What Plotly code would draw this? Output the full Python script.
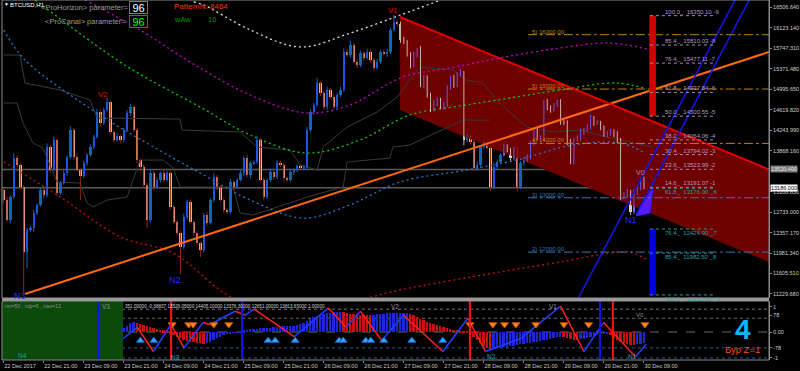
import plotly.graph_objects as go

# ---------------- DATA ----------------
time_labels = ["22 Dec 2017", "22 Dec 21:00", "23 Dec 09:00", "23 Dec 21:00", "24 Dec 09:00",
               "24 Dec 21:00", "25 Dec 09:00", "25 Dec 21:00", "26 Dec 09:00", "26 Dec 21:00",
               "27 Dec 09:00", "27 Dec 21:00", "28 Dec 09:00", "28 Dec 21:00", "29 Dec 09:00",
               "29 Dec 21:00", "30 Dec 09:00"]
time_label_idx = [0, 12, 24, 36, 48, 60, 72, 84, 96, 108, 120, 132, 144, 156, 168, 180, 192]

price_ticks = [16506.64, 16123.14, 15747.31, 15371.48, 14995.65, 14619.82, 14243.99, 13868.16,
               13108.83, 12733.00, 12357.17, 11981.34, 11605.51, 11229.68]

first_open = 13142
closes = [
    12958, 12590, 13013, 13731, 13602, 13197, 12001, 12406, 12443, 12719,
    12866, 13142, 13050, 13933, 13510, 14062, 13087, 13271, 13455, 13749,
    14246, 13749, 13510, 13400, 13639, 13786, 13933, 14117, 14577, 14375,
    14614, 14761, 14209, 14062, 14136, 14062, 14246, 14559, 14669, 14246,
    13694, 13565, 13234, 12590, 13455, 13197, 13326, 13455, 13326, 13455,
    12829, 12553, 12351, 12093, 12645, 12921, 12553, 12351, 12167, 12038,
    12682, 12535, 12958, 13381, 13197, 12958, 12774, 12737, 13289, 13197,
    13326, 13455, 13731, 13418, 13639, 13657, 14062, 13326, 13013, 13326,
    13473, 13381, 13639, 13602, 13363, 13326, 13473, 13510, 13584, 13547,
    13565, 14246, 14577, 14706, 15111, 14927, 14669, 14982, 14853, 14669,
    14890, 14982, 15681, 15626, 15810, 15497, 15442, 15663, 15571, 15681,
    15534, 15387, 15497, 15681, 15644, 15681, 16086, 16233, 16196, 15902,
    15865, 15626, 15442, 15626, 15718, 15074, 15203, 14890, 14614, 14743,
    14798, 14669, 14706, 15019, 15203, 15074, 15258, 15295, 14062, 14117,
    14025, 13547, 13602, 13933, 13970, 13915, 13197, 13565, 13657, 13786,
    13933, 13878, 13731, 13878, 13197, 13639, 13694, 13749, 14007, 14191,
    14099, 14099, 14761, 14651, 14614, 14706, 14743, 14393, 14375, 14025,
    13657, 14062, 14099, 14209, 14246, 14301, 14467, 14375, 14375, 14283,
    14154, 14191, 14209, 14154, 14062, 13013, 13050, 13105, 12737, 13105,
    13179, 13326, 13186]
wick_up = [
    40, 60, 30, 90, 50, 40, 30, 50, 40, 60,
    30, 50, 40, 70, 40, 60, 30, 40, 50, 30,
    70, 40, 60, 30, 40, 30, 50, 40, 60, 50,
    40, 80, 30, 40, 60, 30, 40, 50, 60, 30,
    40, 30, 50, 40, 70, 40, 50, 30, 60, 40,
    30, 40, 30, 40, 60, 40, 50, 30, 40, 30,
    40, 60, 30, 70, 40, 30, 50, 40, 60, 30,
    40, 50, 30, 60, 40, 30, 80, 40, 50, 30,
    40, 30, 60, 40, 50, 30, 40, 30, 40, 30,
    40, 60, 50, 40, 90, 40, 50, 60, 40, 50,
    40, 60, 70, 50, 80, 40, 60, 50, 40, 60,
    50, 40, 60, 40, 50, 60, 40, 130, 50, 40,
    60, 40, 50, 60, 40, 70, 60, 50, 40, 60,
    50, 40, 60, 50, 40, 60, 50, 70, 40, 60,
    40, 50, 60, 40, 70, 50, 40, 80, 50, 40,
    60, 50, 40, 60, 50, 40, 60, 50, 40, 60,
    90, 50, 40, 60, 50, 40, 60, 70, 40, 50,
    60, 40, 50, 60, 40, 50, 60, 40, 50, 40,
    50, 40, 60, 50, 70, 40, 50, 60, 40, 50,
    60, 40, 60]
wick_dn = [
    50, 40, 60, 30, 40, 50, 750, 300, 40, 60,
    40, 30, 60, 40, 50, 30, 60, 40, 30, 50,
    40, 60, 30, 440, 40, 50, 30, 40, 30, 60,
    40, 30, 50, 40, 30, 60, 40, 30, 50, 40,
    60, 40, 50, 150, 40, 60, 30, 50, 40, 30,
    50, 40, 60, 500, 40, 50, 30, 60, 40, 130,
    40, 50, 30, 40, 60, 30, 50, 40, 30, 60,
    40, 30, 50, 40, 60, 30, 40, 50, 60, 40,
    30, 50, 40, 30, 60, 40, 30, 50, 40, 30,
    40, 30, 40, 50, 30, 60, 40, 50, 30, 40,
    50, 40, 30, 40, 50, 30, 60, 40, 50, 30,
    40, 50, 30, 40, 30, 50, 40, 30, 40, 50,
    40, 30, 60, 40, 50, 40, 60, 50, 40, 30,
    60, 40, 50, 40, 30, 50, 40, 30, 100, 40,
    50, 60, 40, 50, 40, 30, 80, 40, 50, 40,
    30, 40, 50, 40, 80, 40, 50, 30, 40, 50,
    40, 30, 60, 40, 50, 30, 40, 50, 40, 60,
    40, 50, 30, 40, 50, 30, 40, 50, 30, 40,
    30, 40, 50, 40, 60, 60, 40, 50, 55, 40,
    50, 40, 30]

# channel (V1 -> right edge)
chan_idx = [118.8, 229.5]
chan_top = [16325, 13520.4]
chan_bot = [14614, 11817]
# trend lines
trend_idx = [6.4, 229.5]
trend_price = [11230, 15681]
blueA_idx = [170, 222]
blueA_price = [10883, 16951]
blueB_idx = [189.6, 229.5]
blueB_price = [12682, 17330]
tri_idx = [189.6, 193.8, 194.7]
tri_price = [12664, 12719, 13198]

# envelope curves (index, price)
white_idx = [57, 60, 74, 89, 104, 119, 131]
white_px = [16601, 16546, 16086, 15774, 16031, 16362, 16638]
mag_idx = [24.4, 40.9, 55.9, 73.9, 91.0, 103.8, 119.7, 133.8, 148.8, 166.8, 181.8, 192.9]
mag_px = [16638, 16086, 15498, 14890, 14559, 14706, 15222, 15387, 15571, 15755, 15847, 15737]
grn_idx = [9.4, 34.0, 43.9, 58.9, 73.9, 91.0, 106.8, 121.8, 136.8, 151.8, 166.8, 183.9, 192.9]
grn_px = [16638, 15534, 15166, 14670, 14154, 13823, 14063, 14523, 14688, 14835, 14983, 15111, 15001]
blu_idx = [0, 6.4, 28.9, 43.9, 58.9, 73.9, 89.8, 103.8, 118.8, 138.9, 153.9, 170.7, 184.8, 192.3]
blu_px = [16086, 15534, 14523, 13971, 13456, 12959, 12627, 12867, 13290, 13511, 13695, 13971, 14008, 13823]
red_idx = [0, 16.9, 34.9, 50.8, 68.8, 88.9, 109.0, 118.8, 148.8, 166.8, 181.8, 187.8, 192.9]
red_px = [13663, 13019, 12283, 11984, 11156, 10898, 11156, 11303, 11634, 11818, 11984, 12002, 11855]
g1_idx = [0, 4.9, 6.4, 16.9, 25.9, 28.0, 52.9, 53.5, 70.9, 76.0, 85.9, 88.9, 94.0, 95.8, 103.0,
          112.0, 118.0, 124.8, 134.7, 138.9, 143.7, 147.9, 152.7, 156.9, 164.7, 172.8, 180.9, 188.7, 194.7]
g1_px = [15626, 15626, 15111, 14982, 14798, 14467, 14448, 14246, 14209, 13933, 13878, 13602, 13510, 13933,
         14301, 14577, 14853, 15405, 15350, 15166, 15111, 14798, 14522, 14301, 14209, 14246, 14117, 14007, 13933]
g2_idx = [0, 4.0, 5.8, 8.8, 11.8, 16.0, 22.9, 25.0, 26.8, 31.0, 37.0, 38.8, 40.9, 47.8, 50.8, 52.9,
          68.8, 70.9, 74.8, 83.8, 91.0, 101.8, 103.0, 115.8, 116.7, 121.8, 137.8, 145.8]
g2_px = [14743, 14743, 14375, 14007, 13915, 13289, 13271, 12903, 12829, 12958, 13013, 13326, 13694, 13694,
         13547, 13197, 13197, 12719, 12682, 12866, 13013, 13197, 13657, 13731, 13933, 13970, 14430, 14430]

levels = [16000, 15000, 14000, 13000, 12000]
level_names = ["5) 16000.00", "5) 15000.00", "4) 14000.00", "3) 13000.00", "2) 12000.00"]
fib_up_px = [16350.10, 15810.03, 15477.11, 14937.84, 14500.55, 14064.06, 13794.02, 13523.99, 13191.07]
fib_up_txt = ["100.0_  16350.10 -9", "85.4_  15810.03 -8", "76.4_  15477.11 -7", "61.8_  14937.84 -6",
              "50.0_  14500.55 -5", "38.2_  14064.06 -4", "30.4_  13794.02 -3", "23.6_  13523.99 -2",
              "14.6_  13191.07 -1"]
fib_dn_px = [13176.00, 12424.90, 11982.50, 11212.40]
fib_dn_txt = ["61.8_  13176.00 _6", "76.4_  12424.90 _7", "85.4_  11982.50 _8", "100.0_  11212.40 _9"]

# oscillator
hist_start = 36
hist = [
    0.15, 0.25, 0.33, 0.4, 0.36, 0.32, 0.28, 0.24, 0.2, 0.16,
    0.12, 0.09, 0.06, 0.03, -0.05, -0.12, -0.18, -0.24, -0.3, -0.34,
    -0.37, -0.4, -0.42, -0.44, -0.45, -0.42, -0.38, -0.3, -0.24, -0.18,
    -0.13, -0.08, -0.05, -0.03, -0.01, 0.03, 0.06, 0.08, 0.1, 0.12,
    0.13, 0.14, 0.15, 0.16, 0.17, 0.18, 0.2, 0.21, 0.22, 0.23,
    0.24, 0.25, 0.27, 0.3, 0.36, 0.44, 0.52, 0.58, 0.63, 0.67,
    0.7, 0.73, 0.75, 0.77, 0.78, 0.79, 0.76, 0.73, 0.71, 0.69,
    0.68, 0.67, 0.66, 0.65, 0.64, 0.66, 0.68, 0.7, 0.71, 0.72,
    0.73, 0.73, 0.74, 0.74, 0.75, 0.75, 0.7, 0.64, 0.58, 0.52,
    0.46, 0.4, 0.35, 0.3, 0.26, 0.22, 0.18, 0.15, 0.12, 0.09,
    0.07, 0.05, 0.03, 0.01, -0.08, -0.2, -0.32, -0.44, -0.55, -0.63,
    -0.68, -0.66, -0.62, -0.6, -0.58, -0.56, -0.54, -0.52, -0.5, -0.48,
    -0.46, -0.44, -0.42, -0.4, -0.38, -0.35, -0.32, -0.29, -0.26, -0.23,
    -0.2, -0.18, -0.21, -0.24, -0.27, -0.29, -0.3, -0.28, -0.25, -0.22,
    -0.18, -0.14, -0.11, -0.08, -0.06, -0.05, -0.12, -0.22, -0.3, -0.37,
    -0.42, -0.46, -0.49, -0.5, -0.48, -0.45, -0.42]
osc_idx = [35.8, 40.1, 44.9, 50.2, 54.1, 59.8, 61.9, 69.4, 72.4, 75.1, 87.1, 97.4, 102.7, 107.0,
           113.4, 119.9, 131.7, 139.2, 144.5, 155.1, 167.0, 174.0, 179.9, 189.5, 192.6]
osc_val = [-0.25, 0.18, -0.75, 0.29, -0.61, 0.37, 0.29, 0.8, 0.65, 0.88, -0.18, 0.93, 0.18, 0.8,
           -0.33, 0.65, -0.75, 0.53, -0.75, -0.25, 1.0, -0.75, 0.37, -0.96, -0.47]
sell_idx = [50.5, 55.5, 56.8, 63, 67.5, 139.8, 146.7, 150.2, 153.6, 159.6, 168, 175.4, 192.3]
buy_idx = [41, 45, 79.3, 81.4, 87.4, 100.6, 101.8, 108.6, 110.1, 114, 122.4, 131.7]
osc_vline_idx = [28.3, 50.2, 71.5, 139.8, 178.8, 182.7]
osc_vline_col = ["#1010ff", "#ff1010", "#1010ff", "#ff1010", "#1010ff", "#ff1010"]

# ---------------- BUILD ----------------
FONT = "Liberation Sans"
n = len(closes)
idx = list(range(n))
opens = [first_open] + closes[:-1]
highs = [max(o, c) + w for o, c, w in zip(opens, closes, wick_up)]
lows = [min(o, c) - w for o, c, w in zip(opens, closes, wick_dn)]


def chan_at(i, arr):
    return arr[0] + (arr[1] - arr[0]) * (i - chan_idx[0]) / (chan_idx[1] - chan_idx[0])


def px(x):
    return (x - 2) / 767


def py(y):
    return (360 - y) / 360


fig = go.Figure()

# channel
fig.add_trace(go.Scatter(x=[chan_idx[0], chan_idx[1], chan_idx[1], chan_idx[0]],
                         y=[chan_top[0], chan_top[1], chan_bot[1], chan_bot[0]],
                         fill="toself", fillcolor="#6e0000", line=dict(width=0),
                         mode="lines", hoverinfo="skip"))

# grey step lines
for gx, gy in ((g1_idx, g1_px), (g2_idx, g2_px)):
    fig.add_trace(go.Scatter(x=gx, y=gy, mode="lines", line=dict(color="#3a3a3a", width=1)))

# envelope dotted curves
for cx, cy, col in ((white_idx, white_px, "#e0e0e0"), (mag_idx, mag_px, "#c800c8"),
                    (grn_idx, grn_px, "#10c810"), (blu_idx, blu_px, "#2a78d0"),
                    (red_idx, red_px, "#c81010")):
    fig.add_trace(go.Scatter(x=cx, y=cy, mode="lines",
                             line=dict(color=col, width=1.3, dash="2px,3px", shape="spline")))

# candles: colours
body_col, wick_col = [], []
for i, (o, c) in enumerate(zip(opens, closes)):
    inside = i >= chan_idx[0] and chan_at(i, chan_bot) <= (o + c) / 2 <= chan_at(i, chan_top)
    if c >= o:
        body_col.append("#7a62ff" if inside else "#1f4fff")
        wick_col.append("#6a58e0" if inside else "#1464b4")
    else:
        body_col.append("#e6d4d0" if inside else "#ffa892")
        wick_col.append("#c8b4b0" if inside else "#8c2a12")

groups = {}
for i in idx:
    g = groups.setdefault(wick_col[i], ([], []))
    g[0].extend([i, i, None])
    g[1].extend([lows[i], highs[i], None])
for col, (wx, wy) in groups.items():
    fig.add_trace(go.Scatter(x=wx, y=wy, mode="lines", line=dict(color=col, width=1), hoverinfo="skip"))

fig.add_trace(go.Bar(x=idx, y=[max(abs(c - o), 18) for o, c in zip(opens, closes)],
                     base=[min(o, c) for o, c in zip(opens, closes)], width=0.7,
                     marker=dict(color=body_col, line=dict(width=0)), hoverinfo="skip"))

# trend lines
fig.add_trace(go.Scatter(x=trend_idx, y=trend_price, mode="lines", line=dict(color="#ff6a10", width=2)))
fig.add_trace(go.Scatter(x=chan_idx, y=chan_top, mode="lines", line=dict(color="#e00000", width=2)))
fig.add_trace(go.Scatter(x=blueA_idx, y=blueA_price, mode="lines", line=dict(color="#1414e6", width=1.6)))
fig.add_trace(go.Scatter(x=blueB_idx, y=blueB_price, mode="lines", line=dict(color="#1414e6", width=1.6)))
fig.add_trace(go.Scatter(x=tri_idx + [tri_idx[0]], y=tri_price + [tri_price[0]], fill="toself",
                         fillcolor="#5a18ff", line=dict(color="#3020ff", width=1), mode="lines"))

# ---------------- oscillator ----------------
h_idx = list(range(hist_start, hist_start + len(hist)))
h_col = []
for k, v in enumerate(hist):
    prev = hist[k - 1] if k > 0 else 0
    h_col.append("#1c28d8" if v >= prev else "#c81010")
fig.add_trace(go.Bar(x=h_idx, y=hist, width=0.55, marker=dict(color=h_col, line=dict(width=0)),
                     yaxis="y2", hoverinfo="skip"))

for k in range(len(osc_idx) - 1):
    col = "#2040ff" if osc_val[k + 1] > osc_val[k] else "#ff2020"
    fig.add_trace(go.Scatter(x=osc_idx[k:k + 2], y=osc_val[k:k + 2], mode="lines",
                             line=dict(color=col, width=1.5), yaxis="y2"))

fig.add_trace(go.Scatter(x=sell_idx, y=[0.29] * len(sell_idx), mode="markers", yaxis="y2",
                         marker=dict(symbol="triangle-down", size=7, color="#ff8a20",
                                     line=dict(color="#c05000", width=1))))
fig.add_trace(go.Scatter(x=buy_idx, y=[-0.33] * len(buy_idx), mode="markers", yaxis="y2",
                         marker=dict(symbol="triangle-up", size=7, color="#3aa8ff",
                                     line=dict(color="#1060c0", width=1))))

shapes = []
# horizontal grey price lines
for p in (13520.4, 13186.0):
    shapes.append(dict(type="line", xref="x", yref="y", x0=-0.5, x1=229.5, y0=p, y1=p,
                       line=dict(color="#5a5a5a", width=1.5), layer="below"))
# price levels
for p in levels:
    col = "#c08010" if p >= 14000 else "#3a78b8"
    shapes.append(dict(type="line", xref="x", yref="y", x0=157.2, x1=229.5, y0=p, y1=p,
                       line=dict(color=col, width=1, dash="dashdot")))
# fib bars
shapes.append(dict(type="rect", xref="x", yref="y", x0=193.6, x1=195.6, y0=fib_up_px[4], y1=fib_up_px[0],
                   fillcolor="#d00000", line=dict(width=0)))
shapes.append(dict(type="rect", xref="x", yref="y", x0=193.6, x1=195.6, y0=fib_dn_px[3], y1=fib_dn_px[1],
                   fillcolor="#0000e0", line=dict(width=0)))
for p in fib_up_px:
    shapes.append(dict(type="line", xref="x", yref="y", x0=193.8, x1=213.3, y0=p, y1=p,
                       line=dict(color="#a888b8", width=1, dash="dot")))
for p in fib_dn_px:
    shapes.append(dict(type="line", xref="x", yref="y", x0=193.8, x1=213.3, y0=p, y1=p,
                       line=dict(color="#2a9a9a", width=1, dash="dot")))
# oscillator decorations
shapes.append(dict(type="rect", xref="x", yref="y2", x0=-0.5, x1=35.8, y0=-1.078, y1=1.196,
                   fillcolor="#0a4a0a", line=dict(width=0), layer="below"))
for v, col, d in ((0.88, "#8a6a8a", "dot"), (0.53, "#6a6a6a", "dot"), (0, "#6a6a6a", "dash"),
                  (-0.61, "#2a5a9a", "dot"), (-1.0, "#2a5a9a", "dot")):
    shapes.append(dict(type="line", xref="paper", yref="y2", x0=0, x1=1, y0=v, y1=v,
                       line=dict(color=col, width=1, dash=d), layer="below"))
for xi, col in zip(osc_vline_idx, osc_vline_col):
    shapes.append(dict(type="line", xref="x", yref="y2", x0=xi, x1=xi, y0=-1.078, y1=1.196,
                       line=dict(color=col, width=2)))
# frames
shapes.append(dict(type="rect", xref="paper", yref="paper", x0=0, x1=1, y0=py(298), y1=1,
                   line=dict(color="#8a8a8a", width=1)))
shapes.append(dict(type="rect", xref="paper", yref="paper", x0=0, x1=1, y0=0, y1=py(301),
                   line=dict(color="#8a8a8a", width=1)))
shapes.append(dict(type="line", xref="paper", yref="paper", x0=0, x1=1, y0=py(299.5), y1=py(299.5),
                   line=dict(color="#9a9a9a", width=3)))

ann = []


def txt(x, y, s, size, color, xanchor="left", **kw):
    d = dict(x=x, y=y, xref="paper", yref="paper", text=s, showarrow=False, xanchor=xanchor,
             yanchor="middle", font=dict(size=size, color=color, family=FONT))
    d.update(kw)
    ann.append(d)


txt(px(2), py(4), "▼", 5, "#ffffff")
txt(px(8), py(5), "BTCUSD,H1", 6, "#ffffff")
txt(px(39), py(7), "&lt;ProHorizon&gt; parameter=", 7.5, "#9a9a9a")
txt(px(43), py(21), "&lt;ProCanal&gt; parameter=", 7.5, "#9a9a9a")
txt(px(138), py(7.5), "96", 11, "#ffffff", xanchor="center", bordercolor="#7a7a7a", borderwidth=1,
    borderpad=0, bgcolor="#000000", width=17, height=11)
txt(px(138), py(21.5), "96", 11, "#00ff00", xanchor="center", bordercolor="#00a000", borderwidth=1,
    borderpad=0, bgcolor="#000000", width=17, height=11)
txt(px(172), py(6), "PatternN: 8464", 8, "#ff3000")
txt(px(172), py(19), "wAw", 7.5, "#009000")
txt(px(206), py(19), "10", 7.5, "#009000")
txt(px(393), py(10), "V1", 8, "#e00000", xanchor="center")
txt(px(103), py(95), "V2", 8, "#e00000", xanchor="center")
txt(px(640), py(173), "V0", 7, "#b08cb0", xanchor="center")
txt(px(631), py(220), "N1", 9, "#2a2aff", xanchor="center")
txt(px(175), py(280), "N2", 9, "#2a2aff", xanchor="center")
txt(px(20), py(296), "N3", 9, "#2a2aff", xanchor="center")

for p, s in zip(levels, level_names):
    col = "#c08010" if p >= 14000 else "#3a78b8"
    ann.append(dict(x=157.8, y=p, xref="x", yref="y", text=s, showarrow=False, xanchor="left",
                    yanchor="bottom", yshift=-2, font=dict(size=6, color=col, family=FONT)))
for p, s in zip(fib_up_px, fib_up_txt):
    ann.append(dict(x=197.7, y=p, xref="x", yref="y", text=s, showarrow=False, xanchor="left",
                    yanchor="bottom", yshift=-1, font=dict(size=6, color="#b898c0", family=FONT)))
for p, s in zip(fib_dn_px, fib_dn_txt):
    ann.append(dict(x=197.7, y=p, xref="x", yref="y", text=s, showarrow=False, xanchor="left",
                    yanchor="top", yshift=1, font=dict(size=6, color="#2aa0a0", family=FONT)))

# right price boxes
ann.append(dict(x=1, y=13520.4, xref="paper", yref="y", text="13520.400", showarrow=False,
                xanchor="left", xshift=1, bgcolor="#7a7a7a", borderpad=0,
                font=dict(size=5.5, color="#e8e8e8", family=FONT)))
ann.append(dict(x=1, y=13186.0, xref="paper", yref="y", text="13186.000", showarrow=False,
                xanchor="left", xshift=1, bgcolor="#ffffff", borderpad=0,
                font=dict(size=5.5, color="#000000", family=FONT)))

# oscillator texts
txt(px(3), py(306), "пп=50 , пф=6 , паз=12", 5.5, "#8a8a8a")
txt(px(100), py(306), "V3", 6.5, "#8a8a8a")
txt(px(123), py(306), "351.00000 -0.38837 13528.05000 14405.10000 13376.30000 12651.00000 13813.65000 1.00000",
    4.6, "#d0d0d0")
txt(px(395), py(306), "V2", 6.5, "#a08aa0", xanchor="center")
txt(px(553), py(306), "V1", 6.5, "#a08aa0", xanchor="center")
txt(px(640), py(315), "V0", 6, "#a08aa0", xanchor="center")
txt(px(22), py(355), "N4", 6.5, "#20a0a0", xanchor="center")
txt(px(175), py(357), "N3", 6.5, "#20a0a0", xanchor="center")
txt(px(492), py(356), "N2", 6.5, "#20a0a0", xanchor="center")
txt(px(632), py(356), "N1", 6.5, "#20a0a0", xanchor="center")
txt(px(743), py(329), "<b>4</b>", 28, "#10b4ff", xanchor="center")
txt(px(742), py(349), "Бур Z=1", 9.5, "#ff4a10", xanchor="center")

fig.update_layout(
    width=800, height=371,
    margin=dict(l=2, r=31, t=0, b=11, autoexpand=False),
    paper_bgcolor="#000000", plot_bgcolor="#000000",
    showlegend=False, barmode="overlay", bargap=0,
    shapes=shapes, annotations=ann,
    font=dict(family=FONT, color="#c8c8c8"),
    xaxis=dict(range=[-0.5, 229.5], anchor="y2", tickmode="array", tickvals=time_label_idx,
               ticktext=time_labels, ticklabelposition="outside right", ticks="outside",
               ticklen=2, tickcolor="#8a8a8a", tickfont=dict(size=5.6, color="#c8c8c8"),
               tickangle=0, automargin=False,
               showgrid=False, zeroline=False, showline=False),
    yaxis=dict(domain=[py(298), 1], range=[11156, 16638], side="right", anchor="x",
               tickmode="array", tickvals=price_ticks, ticktext=["%.3f" % t for t in price_ticks],
               ticks="outside", ticklen=2, tickcolor="#8a8a8a", tickfont=dict(size=5.5, color="#d0d0d0"),
               automargin=False,
               showgrid=False, zeroline=False, showline=True, linecolor="#8a8a8a"),
    yaxis2=dict(domain=[0, py(301)], range=[-1.078, 1.196], side="right", anchor="x",
                tickmode="array", tickvals=[0.98, 0.65, 0, -0.61, -1.0],
                ticktext=["1", "78", "0.00", "-78", "-1"], ticks="outside", ticklen=2,
                tickcolor="#8a8a8a", tickfont=dict(size=5.5, color="#d0d0d0"), automargin=False,
                showgrid=False, zeroline=False, showline=True, linecolor="#8a8a8a"),
)

fig.write_html("out.html", config={"displayModeBar": False},
               post_script="document.body.style.margin='0';document.body.style.background='#000';")
